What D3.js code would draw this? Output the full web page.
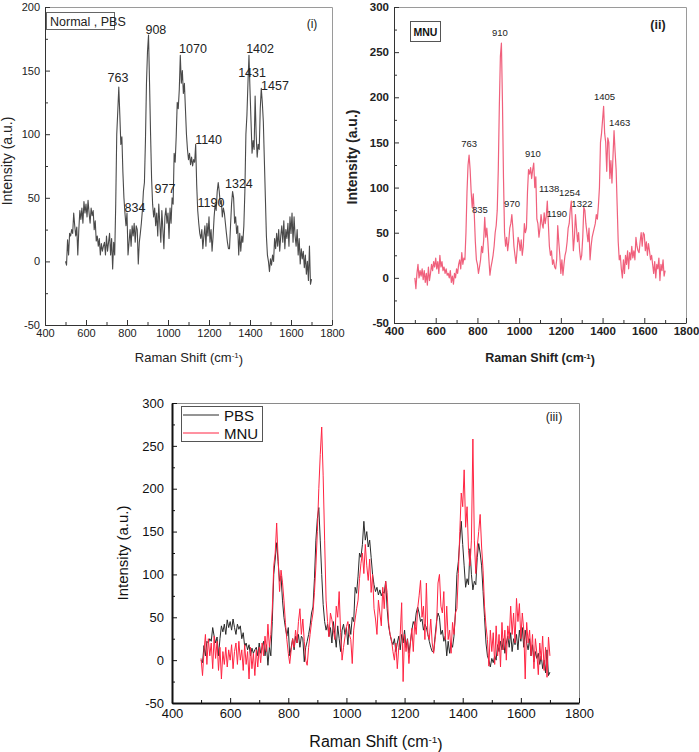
<!DOCTYPE html>
<html><head><meta charset="utf-8">
<script src="https://cdn.jsdelivr.net/npm/d3@7"></script>
<style>body{margin:0;background:#fff} svg{display:block}</style>
</head><body>
<script>
// ---------- DATA ----------
const SHIFT_START = 500;   // cm^-1, first sample
const SHIFT_STEP = 5;      // cm^-1 between samples

// Panel (i) and black curve of (iii): Normal, PBS
const pbsIntensity = [
  0, -3, 17, 5, 22, 20, 25, 22, 38, 28, 20, 27, 5, 25, 40, 33, 42, 30, 47, 38,
  45, 35, 48, 38, 30, 42, 36, 40, 25, 32, 16, 20, 12, 18, 5, 14, 8, 12, 15, 5,
  20, 8, 15, 22, 5, 18, -6, 15, 5, 45, 100, 118, 137, 115, 92, 98, 70, 50, 38, 28,
  38, 5, 15, 25, 12, 28, 20, 30, 15, 28, 25, -2, 15, 22, 30, 40, 55, 62, 95, 140,
  165, 178, 140, 100, 65, 45, 35, 42, 28, 38, 20, 45, 30, 15, 40, 25, 10, 35, 42, 30,
  38, 18, 42, 30, 50, 45, 85, 78, 98, 125, 120, 135, 162, 140, 150, 132, 140, 120, 100, 88,
  80, 85, 76, 82, 75, 80, 78, 92, 60, 40, 30, 22, 18, 25, 10, 20, 28, 12, 30, 20,
  35, 15, 25, 8, 20, 35, 45, 40, 55, 62, 55, 45, 48, 35, 42, 38, 30, 22, 15, 10,
  10, 28, 45, 55, 50, 30, 35, 22, 28, 5, 22, 8, 20, 15, 28, 55, 100, 115, 140, 162,
  135, 110, 85, 95, 88, 130, 100, 82, 92, 88, 120, 136, 125, 110, 80, 50, 20, 5, 0, -8,
  2, -3, 5, 0, 18, 10, 22, 12, 25, 8, 20, 28, 15, 32, 10, 25, 18, 30, 12, 35,
  22, 38, 15, 35, 20, 12, 25, 5, 18, -2, 10, 2, 8, -5, 5, -10, 0, -15, 12, -18,
  -14
];

// Panel (ii): MNU
const mnuIntensity = [
  0, -12, 5, 15, 0, 8, 2, 10, -2, 8, -5, 5, -8, 12, -3, 5, 15, 8, 18, 12,
  22, 10, 18, 5, 25, 12, 18, 8, 12, 5, 10, 3, 5, 0, 8, -5, 2, -7, 5, 0,
  10, 5, 15, 20, 10, 28, 15, 22, 20, 50, 95, 125, 136, 120, 95, 78, 93, 70, 40, 20,
  15, 5, 12, 20, 35, 28, 42, 67, 45, 55, 40, 20, 3, 12, 18, 25, 35, 50, 58, 75,
  120, 190, 245, 260, 195, 110, 50, 35, 45, 30, 40, 55, 60, 70, 55, 35, 25, 16, 30, 45,
  40, 30, 42, 25, 35, 60, 50, 55, 95, 120, 115, 122, 110, 120, 127, 100, 112, 65, 60, 45,
  55, 70, 60, 55, 72, 60, 68, 85, 60, 35, 25, 30, 15, 20, 12, 10, 20, 58, 40, 25,
  5, 20, 3, 15, 25, 30, 40, 55, 60, 75, 85, 60, 30, 45, 70, 55, 40, 50, 30, 20,
  25, 45, 78, 75, 60, 50, 40, 55, 20, 35, 45, 50, 55, 60, 70, 65, 80, 100, 150, 160,
  175, 190, 160, 150, 118, 155, 150, 110, 130, 105, 135, 163, 140, 120, 80, 40, 20, 25, 10, 0,
  20, 5, 25, 15, 30, 10, 28, 20, 35, 22, 30, 20, 45, 35, 30, 28, 40, 50, 35, 50,
  48, 30, 40, 25, 38, 30, 20, 25, 15, 5, 18, 0, 15, 10, 22, -3, 15, 8, 20, 2,
  8
];

// Panel (iii): red MNU curve (overlay)
const mnuOverlayIntensity = [
  2, -18, 10, 30, -5, 25, 5, 20, -10, 28, 2, 22, -12, 15, -22, 10, -5, 15, -8, 12,
  0, 18, -10, 10, 20, -5, 22, 0, 12, -12, 18, -5, 10, -22, 15, -10, 8, -18, 12, -8,
  15, -3, 20, 5, 28, 10, 42, 15, 30, 60, 110, 125, 160, 118, 80, 105, 91, 70, 44, 24,
  8, -4, 12, 25, 15, 35, 20, 45, 60, 30, 48, 22, 0, -6, 15, 30, 44, 55, 79, 110,
  150, 200, 240, 272, 215, 140, 70, 45, 27, 55, 47, 35, 24, 63, 50, 80, 32, 0, 15, 27,
  39, 45, 30, 24, -4, 35, 48, 60, 70, 95, 113, 125, 101, 135, 110, 93, 118, 79, 100, 60,
  48, 30, 70, 55, 40, 85, 60, 92, 79, 44, 30, 24, 10, 0, 20, -10, 15, 30, 67, -25,
  30, 10, 24, -4, 20, 37, 10, 45, 30, 60, 75, 93, 50, 63, 24, 90, 30, 24, 48, 20,
  8, 24, 40, 90, 100, 63, 55, 80, 24, 63, 24, 35, 8, 44, 30, 55, 60, 101, 150, 195,
  179, 222, 155, 179, 128, 110, 140, 258, 140, 101, 132, 150, 170, 132, 105, 63, 40, 24, -7, 35,
  10, 32, -5, 40, 5, 30, -8, 44, 12, 35, 0, 40, 25, 63, 30, 55, 20, 72, 45, 66,
  25, 55, 35, -22, 44, 20, 35, 5, 30, -10, 25, 8, -17, 20, 0, 28, -12, 15, -20, 27,
  5
];

const xTickValues = [400, 600, 800, 1000, 1200, 1400, 1600, 1800];
const xMinorTickValues = [500, 700, 900, 1100, 1300, 1500, 1700];
const yTicksI = [-50, 0, 50, 100, 150, 200];
const yMinorI = [-25, 25, 75, 125, 175];
const yTicksII = [-50, 0, 50, 100, 150, 200, 250, 300];
const yMinorII = [-25, 25, 75, 125, 175, 225, 275];

// peak annotations: text, anchor in data units (shift, intensity)
const peakLabelsI = [
  {text: "763", shift: 756, value: 141},
  {text: "908", shift: 941, value: 178.5},
  {text: "1070", shift: 1122, value: 163.5},
  {text: "1402", shift: 1449, value: 164},
  {text: "1431", shift: 1410, value: 145},
  {text: "1457", shift: 1522, value: 135},
  {text: "1140", shift: 1198, value: 92},
  {text: "977", shift: 985, value: 53.5},
  {text: "834", shift: 839, value: 39},
  {text: "1190", shift: 1210, value: 42.5},
  {text: "1324", shift: 1346, value: 58}
];
const peakLabelsII = [
  {text: "910", shift: 908, value: 268},
  {text: "763", shift: 760, value: 145},
  {text: "835", shift: 812, value: 72},
  {text: "970", shift: 966, value: 78.5},
  {text: "910", shift: 1066, value: 134},
  {text: "1138", shift: 1144, value: 95},
  {text: "1254", shift: 1242, value: 90.5},
  {text: "1190", shift: 1181, value: 67.4},
  {text: "1322", shift: 1301, value: 78},
  {text: "1405", shift: 1409, value: 197},
  {text: "1463", shift: 1482, value: 168}
];
const legendLabels = ["PBS", "MNU"];

// ---------- DRAWING ----------
const toPoints = arr => arr.map((v, i) => ({shift: SHIFT_START + i * SHIFT_STEP, value: v}));
const plainFormat = d => String(d);

const svg = d3.select("body").append("svg").attr("width", 699).attr("height", 752);
svg.append("rect").attr("width", 699).attr("height", 752).attr("fill", "#fff");

function drawPanel(cfg) {
  const g = svg.append("g");
  const x = d3.scaleLinear().domain([400, 1800]).range([cfg.left, cfg.right]);
  const y = d3.scaleLinear().domain(cfg.yDomain).range([cfg.bottom, cfg.top]);

  g.append("path")
    .attr("d", `M${cfg.left},${cfg.top + 0.5}H${cfg.right + 0.5}V${cfg.bottom}`)
    .attr("fill", "none").attr("stroke", cfg.frameColor).attr("stroke-width", 1);

  const line = d3.line().x(d => x(d.shift)).y(d => y(d.value));
  cfg.series.forEach(s => {
    g.append("path").datum(toPoints(s.values)).attr("d", line)
      .attr("fill", "none").attr("stroke", s.color).attr("stroke-width", s.width)
      .attr("stroke-linejoin", "round");
  });

  // minor ticks
  g.append("g").attr("transform", `translate(0,${cfg.bottom})`)
    .call(d3.axisBottom(x).tickValues(xMinorTickValues).tickSize(-cfg.minorTick).tickFormat(""))
    .call(a => a.select(".domain").remove())
    .selectAll("line").attr("stroke", cfg.axisColor);
  g.append("g").attr("transform", `translate(${cfg.left},0)`)
    .call(d3.axisLeft(y).tickValues(cfg.yMinor).tickSize(-cfg.minorTick).tickFormat(""))
    .call(a => a.select(".domain").remove())
    .selectAll("line").attr("stroke", cfg.axisColor);

  const gx = g.append("g").attr("transform", `translate(0,${cfg.bottom})`)
    .call(d3.axisBottom(x).tickValues(xTickValues).tickFormat(plainFormat)
      .tickSizeInner(-cfg.majorTick).tickSizeOuter(0).tickPadding(cfg.xPad));
  const gy = g.append("g").attr("transform", `translate(${cfg.left},0)`)
    .call(d3.axisLeft(y).tickValues(cfg.yTicks).tickFormat(plainFormat)
      .tickSizeInner(-cfg.majorTick).tickSizeOuter(0).tickPadding(cfg.yPad));
  [gx, gy].forEach(a => {
    a.select(".domain").attr("stroke", cfg.axisColor).attr("stroke-width", cfg.axisWidth);
    a.selectAll(".tick line").attr("stroke", cfg.axisColor);
    a.selectAll(".tick text").attr("fill", cfg.textColor)
      .style("font-family", cfg.tickFont).style("font-size", cfg.tickSize + "px")
      .style("font-weight", cfg.tickWeight || "normal");
  });

  // axis titles
  const xt = g.append("text").attr("x", cfg.xTitle[0]).attr("y", cfg.xTitle[1])
    .attr("text-anchor", "middle").attr("fill", cfg.textColor)
    .style("font-family", cfg.titleFont).style("font-size", cfg.titleSize + "px")
    .style("font-weight", cfg.titleWeight || "normal");
  xt.append("tspan").text("Raman Shift (cm");
  xt.append("tspan").attr("dy", "-0.45em").style("font-size", "0.62em").text("-1");
  xt.append("tspan").attr("dy", "0.45em").text(")");
  g.append("text").attr("transform", `translate(${cfg.yTitle[0]},${cfg.yTitle[1]}) rotate(-90)`)
    .attr("text-anchor", "middle").attr("fill", cfg.textColor)
    .style("font-family", cfg.titleFont).style("font-size", cfg.yTitleSize + "px")
    .style("font-weight", cfg.titleWeight || "normal")
    .text("Intensity (a.u.)");

  // peak labels
  (cfg.peaks || []).forEach(p => {
    g.append("text").attr("x", x(p.shift)).attr("y", y(p.value))
      .attr("text-anchor", "middle").attr("fill", cfg.textColor)
      .style("font-family", cfg.peakFont).style("font-size", cfg.peakSize + "px")
      .text(p.text);
  });
  return {g, x, y};
}

// Panel (i)
const p1 = drawPanel({
  left: 45, right: 332, top: 7, bottom: 325,
  yDomain: [-50, 200], yTicks: yTicksI, yMinor: yMinorI,
  frameColor: "#9a9a9a", axisColor: "#333", axisWidth: 1, textColor: "#222",
  majorTick: 5, minorTick: 3, xPad: 4, yPad: 5,
  tickFont: "'Liberation Sans Narrow', 'Arial Narrow', sans-serif", tickSize: 11,
  titleFont: "'Liberation Sans', Arial, sans-serif", titleSize: 13, yTitleSize: 14,
  xTitle: [189, 362], yTitle: [12, 161],
  peakFont: "'Liberation Sans Narrow', 'Arial Narrow', sans-serif", peakSize: 12.5,
  peaks: peakLabelsI,
  series: [{values: pbsIntensity, color: "#4a4a4a", width: 1.1}]
});
p1.g.append("rect").attr("x", 46.5).attr("y", 12.5).attr("width", 68).attr("height", 17)
  .attr("fill", "#fff").attr("stroke", "#666");
p1.g.append("text").attr("x", 50).attr("y", 26).attr("fill", "#222")
  .style("font-family", "'Liberation Sans Narrow', 'Arial Narrow', sans-serif").style("font-size", "12.5px")
  .text("Normal , PBS");
p1.g.append("text").attr("x", 312).attr("y", 28).attr("text-anchor", "middle").attr("fill", "#222")
  .style("font-family", "'Liberation Sans', Arial, sans-serif").style("font-size", "12px").text("(i)");

// Panel (ii)
const p2 = drawPanel({
  left: 394, right: 686, top: 7, bottom: 323,
  yDomain: [-50, 300], yTicks: yTicksII, yMinor: yMinorII,
  frameColor: "#9a9a9a", axisColor: "#333", axisWidth: 1, textColor: "#222",
  majorTick: 5, minorTick: 3, xPad: 4, yPad: 5,
  tickFont: "'Liberation Sans Narrow', 'Arial Narrow', sans-serif", tickSize: 11.5, tickWeight: "bold",
  titleFont: "'Liberation Sans', Arial, sans-serif", titleSize: 12.5, yTitleSize: 14, titleWeight: "bold",
  xTitle: [540, 362], yTitle: [357, 157],
  peakFont: "'Liberation Sans Narrow', 'Arial Narrow', sans-serif", peakSize: 9.5,
  peaks: peakLabelsII,
  series: [{values: mnuIntensity, color: "#f0607c", width: 1.2}]
});
p2.g.append("rect").attr("x", 410.5).attr("y", 21.5).attr("width", 30).attr("height", 20)
  .attr("fill", "#fff").attr("stroke", "#555");
p2.g.append("text").attr("x", 425.5).attr("y", 35.5).attr("text-anchor", "middle").attr("fill", "#111")
  .style("font-family", "'Liberation Sans', Arial, sans-serif").style("font-size", "10.5px").style("font-weight", "bold")
  .text("MNU");
p2.g.append("text").attr("x", 658).attr("y", 29).attr("text-anchor", "middle").attr("fill", "#222")
  .style("font-family", "'Liberation Sans', Arial, sans-serif").style("font-size", "12.5px").style("font-weight", "bold").text("(ii)");

// Panel (iii)
const p3 = drawPanel({
  left: 172, right: 579, top: 403, bottom: 703,
  yDomain: [-50, 300], yTicks: yTicksII, yMinor: yMinorII,
  frameColor: "#8a8a8a", axisColor: "#111", axisWidth: 2, textColor: "#111",
  majorTick: 5, minorTick: 3, xPad: 6, yPad: 8,
  tickFont: "'Liberation Sans', Arial, sans-serif", tickSize: 13,
  titleFont: "'Liberation Sans', Arial, sans-serif", titleSize: 16, yTitleSize: 15,
  xTitle: [376, 747], yTitle: [128, 553],
  series: [
    {values: pbsIntensity, color: "#2a2a2a", width: 1},
    {values: mnuOverlayIntensity, color: "#ff2442", width: 1}
  ]
});
const legendColors = ["#2a2a2a", "#ff2442"];
p3.g.append("rect").attr("x", 181.5).attr("y", 406.5).attr("width", 81).attr("height", 35)
  .attr("fill", "#fff").attr("stroke", "#555");
legendLabels.forEach((lab, i) => {
  const ly = 415 + i * 18;
  p3.g.append("line").attr("x1", 183).attr("x2", 219).attr("y1", ly).attr("y2", ly)
    .attr("stroke", legendColors[i]).attr("stroke-width", 1);
  p3.g.append("text").attr("x", 224).attr("y", ly + 5.5).attr("fill", "#111")
    .style("font-family", "'Liberation Sans', Arial, sans-serif").style("font-size", "15px").text(lab);
});
p3.g.append("text").attr("x", 554).attr("y", 421).attr("text-anchor", "middle").attr("fill", "#222")
  .style("font-family", "'Liberation Sans', Arial, sans-serif").style("font-size", "12.5px").text("(iii)");
</script>
</body></html>
